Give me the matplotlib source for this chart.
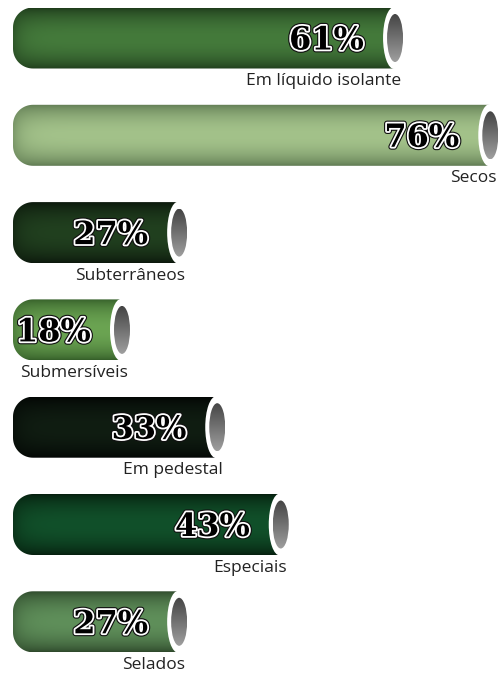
import numpy as np
import matplotlib
matplotlib.use("Agg")
import matplotlib.pyplot as plt
import matplotlib.patheffects as pe
from matplotlib.patches import Ellipse, PathPatch
from matplotlib.path import Path
from matplotlib.colors import to_rgb

# data
categories = ["Em líquido isolante", "Secos", "Subterrâneos", "Submersíveis",
              "Em pedestal", "Especiais", "Selados"]
values = [61, 76, 27, 18, 33, 43, 27]

# bar colours (centre, edge)
centre_colors = ["#447a3b", "#a3c28a", "#21401f", "#6ba452", "#101d12", "#11502a", "#5f8f5a"]
edge_colors = ["#1f3d1c", "#5f7a52", "#0c180c", "#36602a", "#030604", "#06200f", "#2f4a2c"]

W, H = 499, 675
PX_X = 6.35    # pixels per percent
PX_Y = 97.3    # pixels per row
X0_PX = 17.7   # pixel of 0 %
Y0_PX = 38.0   # pixel of first row centre

fig = plt.figure(figsize=(W / 100, H / 100), dpi=100)
ax = fig.add_axes([0, 0, 1, 1])
ax.set_xlim(-X0_PX / PX_X, (W - X0_PX) / PX_X)
ax.set_ylim((H - Y0_PX) / PX_Y, -Y0_PX / PX_Y)
ax.axis("off")

bar_h = 61 / PX_Y
left = -4.7 / PX_X
rx, ry = 20 / PX_X, 20 / PX_Y


def left_rounded_path(x0, x1, yc, h):
    top, bot = yc - h / 2, yc + h / 2
    t = np.linspace(0, np.pi / 2, 20)
    verts = [(x1, top)]
    # top-left corner
    verts += list(zip(x0 + rx - rx * np.sin(t), top + ry - ry * np.cos(t)))
    # bottom-left corner
    verts += list(zip(x0 + rx - rx * np.cos(t), bot - ry + ry * np.sin(t)))
    verts += [(x1, bot), (x1, top)]
    return Path(verts, closed=True)


for i, (lab, v) in enumerate(zip(categories, values)):
    end = v
    cx = end - 11 / PX_X
    c = np.array(to_rgb(centre_colors[i]))
    e = np.array(to_rgb(edge_colors[i]))

    # shaded body
    nx, ny = 300, 60
    yy = np.linspace(0, 1, ny)[:, None]
    xx = np.linspace(0, (cx - left) * PX_X, nx)[None, :]
    sv = np.sin(np.pi * yy) ** 0.7
    sh = 1 - np.exp(-xx / 10)
    s = (sv * (0.45 + 0.55 * sh))[..., None]
    img = e + (c - e) * s
    im = ax.imshow(img, extent=(left, cx, i + bar_h / 2, i - bar_h / 2),
                   aspect="auto", interpolation="bilinear", zorder=1)
    clip = PathPatch(left_rounded_path(left, cx, i, bar_h), transform=ax.transData,
                     facecolor="none", edgecolor="none")
    ax.add_patch(clip)
    im.set_clip_path(clip)

    # cylinder cap
    ax.add_patch(Ellipse((cx, i), 22 / PX_X, 62 / PX_Y, facecolor="white",
                         edgecolor="none", zorder=2))
    g = np.linspace(0.27, 0.62, 50)[:, None, None] * np.ones((50, 10, 3))
    gx0 = cx + 1 / PX_X
    gim = ax.imshow(g, extent=(gx0 - 8 / PX_X, gx0 + 8 / PX_X, i + 24 / PX_Y, i - 24 / PX_Y),
                    aspect="auto", interpolation="bilinear", zorder=3)
    gclip = Ellipse((gx0, i), 16 / PX_X, 48 / PX_Y, transform=ax.transData,
                    facecolor="none", edgecolor="none")
    ax.add_patch(gclip)
    gim.set_clip_path(gclip)

    # percentage
    ax.text(end - 41 / PX_X, i + 3 / PX_Y, f"{v}%", ha="right", va="center",
            fontsize=23, fontweight="bold", family="DejaVu Serif", color="black",
            zorder=4,
            path_effects=[pe.withStroke(linewidth=4.2, foreground="#111111"),
                          pe.withStroke(linewidth=2.6, foreground="white")])

    # category label
    ax.text(end - 4 / PX_X, i + 47 / PX_Y, lab, ha="right", va="baseline",
            fontsize=12.5, family="Open Sans", color="#222222", zorder=4)

fig.savefig("out.png", dpi=100)
